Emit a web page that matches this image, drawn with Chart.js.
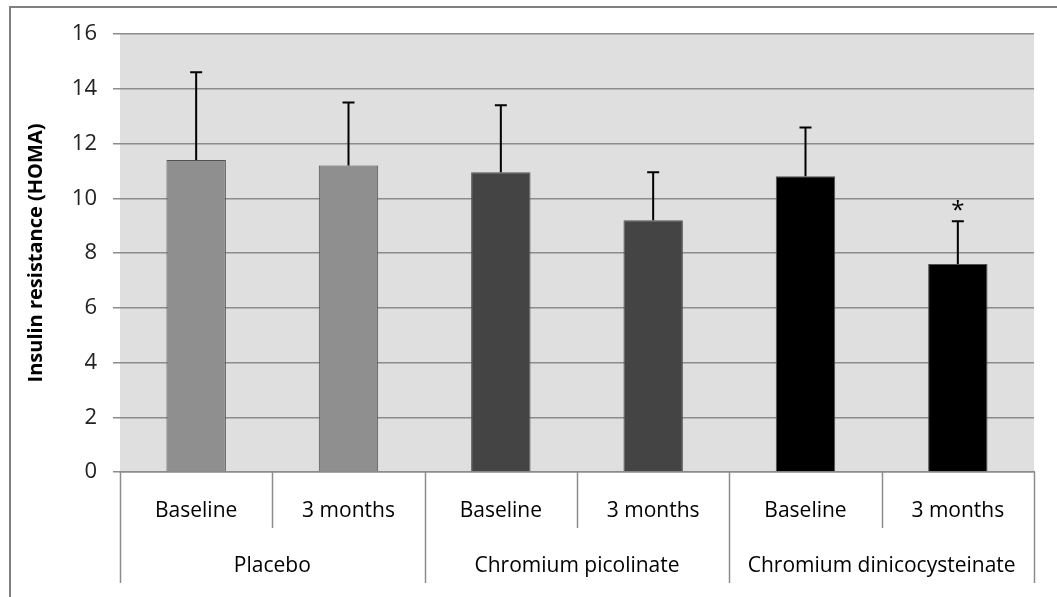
<!DOCTYPE html>
<html>
<head>
<meta charset="utf-8">
<script src="https://cdn.jsdelivr.net/npm/chart.js@4.4.1/dist/chart.umd.min.js"></script>
<style>
  html, body { margin: 0; padding: 0; background: #fff; }
</style>
</head>
<body>
<canvas id="myChart" width="1057" height="597"></canvas>
<script>
// data
const groups = ['Placebo', 'Chromium picolinate', 'Chromium dinicocysteinate'];
const timepoints = ['Baseline', '3 months', 'Baseline', '3 months', 'Baseline', '3 months'];
const homaMean = [11.4, 11.2, 10.95, 9.2, 10.8, 7.6];
const homaSD = [3.2, 2.3, 2.45, 1.75, 1.78, 1.56];
const significant = [false, false, false, false, false, true];
const yMin = 0;
const yMax = 16;
const yStep = 2;

const barColors = ['#8f8f8f', '#8f8f8f', '#444444', '#444444', '#000000', '#000000'];
const FONT = '"Open Sans", "Noto Sans", sans-serif';

window.onload = () => {
  const ctx = document.querySelector('#myChart').getContext('2d');

  // white page, grey frame and plot background
  const backdrop = {
    id: 'backdrop',
    beforeDraw(chart) {
      const c = chart.ctx;
      const a = chart.chartArea;
      c.save();
      c.fillStyle = '#fff';
      c.fillRect(0, 0, chart.width, chart.height);
      c.strokeStyle = '#7f7f7f';
      c.lineWidth = 2;
      c.beginPath();
      c.moveTo(10, chart.height);
      c.lineTo(10, 7);
      c.lineTo(chart.width, 7);
      c.stroke();
      c.fillStyle = '#dfdfdf';
      c.fillRect(a.left, a.top, a.right - a.left, a.bottom - a.top);
      c.restore();
    }
  };

  // error bars, asterisk and the two-level category dividers
  const extras = {
    id: 'extras',
    afterDatasetsDraw(chart) {
      const c = chart.ctx;
      const y = chart.scales.y;
      const x = chart.scales.x;
      const a = chart.chartArea;
      const bars = chart.getDatasetMeta(0).data;
      c.save();
      c.strokeStyle = '#000';
      c.lineWidth = 2;
      bars.forEach((bar, i) => {
        const top = y.getPixelForValue(homaMean[i] + homaSD[i]);
        c.beginPath();
        c.moveTo(bar.x, bar.y);
        c.lineTo(bar.x, top);
        c.moveTo(bar.x - 6, top);
        c.lineTo(bar.x + 6, top);
        c.stroke();
        if (significant[i]) {
          c.fillStyle = '#000';
          c.font = '24px ' + FONT;
          c.textAlign = 'center';
          c.textBaseline = 'middle';
          c.fillText('*', bar.x, top - 10);
        }
      });

      const step = (a.right - a.left) / timepoints.length;
      const x2 = chart.scales.x2;
      c.strokeStyle = '#8c8c8c';
      c.lineWidth = 1.5;
      for (let i = 0; i <= timepoints.length; i++) {
        const px = Math.round(a.left + i * step) + 0.5;
        const bottom = i % 2 === 0 ? x2.bottom - 14 : x.bottom;
        c.beginPath();
        c.moveTo(px, a.bottom);
        c.lineTo(px, bottom);
        c.stroke();
      }
      c.restore();
    }
  };

  new Chart(ctx, {
    type: 'bar',
    data: {
      labels: timepoints,
      datasets: [{
        label: 'Insulin resistance (HOMA)',
        data: homaMean,
        backgroundColor: barColors,
        borderColor: '#505050',
        borderWidth: 1,
        barPercentage: 0.39,
        categoryPercentage: 1
      }]
    },
    options: {
      responsive: false,
      animation: false,
      devicePixelRatio: 1,
      layout: { padding: { top: 34, right: 23, left: 0, bottom: 0 } },
      plugins: {
        legend: { display: false },
        tooltip: { enabled: false }
      },
      scales: {
        x: {
          position: 'bottom',
          weight: 0,
          grid: { display: false },
          border: { display: true, color: '#8c8c8c', width: 1.5 },
          ticks: {
            padding: 18,
            color: '#000',
            maxRotation: 0,
            autoSkip: false,
            font: { family: FONT, size: 21 }
          },
          afterFit(scale) { scale.height = 56; }
        },
        x2: {
          type: 'category',
          position: 'bottom',
          weight: 1,
          labels: groups,
          grid: { display: false },
          border: { display: false },
          ticks: {
            padding: 17,
            color: '#000',
            maxRotation: 0,
            autoSkip: false,
            font: { family: FONT, size: 21 }
          },
          afterFit(scale) { scale.height = 69; }
        },
        y: {
          min: yMin,
          max: yMax,
          ticks: {
            stepSize: yStep,
            padding: 16,
            color: '#222',
            font: { family: FONT, size: 22 }
          },
          grid: {
            color: '#8c8c8c',
            lineWidth: 1.5,
            tickLength: 7
          },
          border: { display: false },
          title: {
            display: true,
            text: 'Insulin resistance (HOMA)',
            color: '#000',
            padding: { top: 24, bottom: 0 },
            font: { family: FONT, size: 20, weight: 'bold' }
          },
          afterFit(scale) { scale.width = 120; }
        }
      }
    },
    plugins: [backdrop, extras]
  });
};
</script>
</body>
</html>
